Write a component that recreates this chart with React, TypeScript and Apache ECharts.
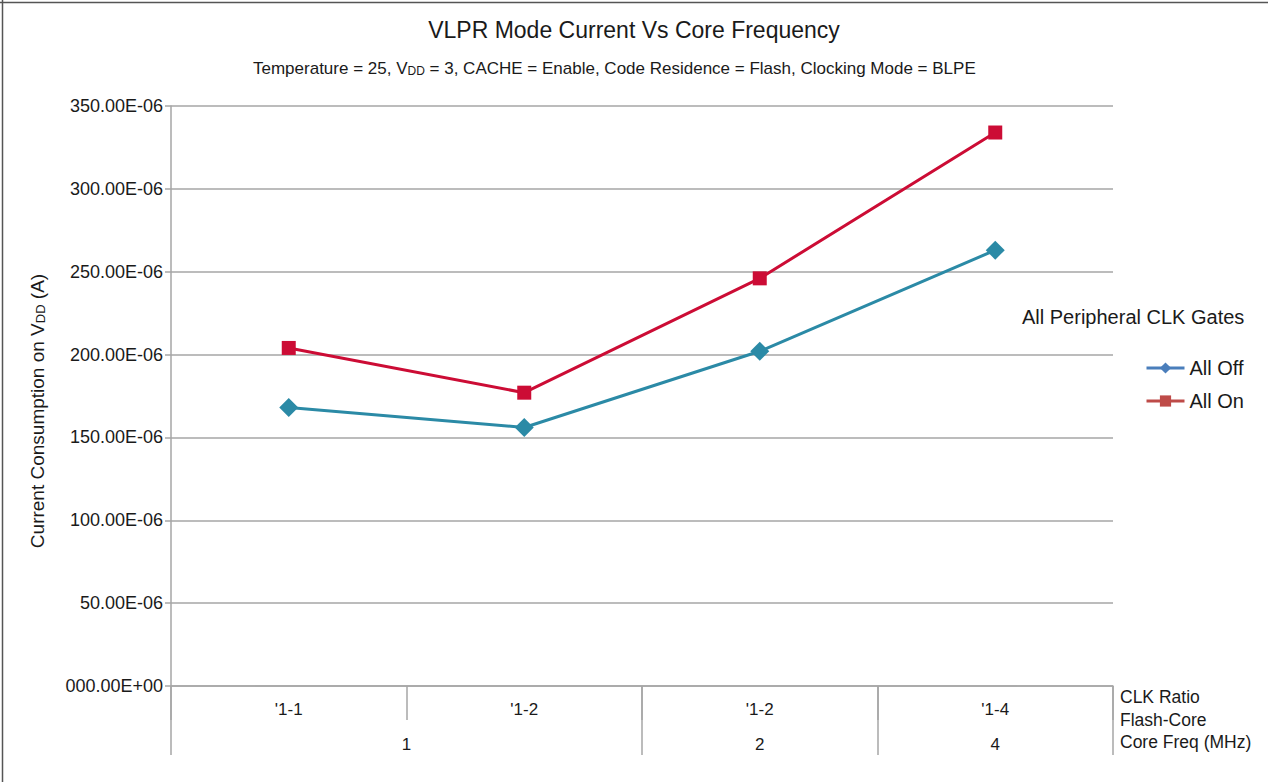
import React, { useEffect, useRef } from "react";
import * as echarts from "echarts";

const clkRatio = ["'1-1", "'1-2", "'1-2", "'1-4"];
const coreFreq = ["1", "2", "4"];
const coreFreqPos = [1, 2.5, 3.5];
const groupEdges = [0, 2, 3, 4];
const allOff = [168, 156, 202, 263];
const allOn = [204, 177, 246, 334];
const yTicks = [0, 50, 100, 150, 200, 250, 300, 350];

const FONT = "Liberation Sans, Arial, Helvetica, sans-serif";
const GRID = "#a6a6a6";
const TXT = "#1a1a1a";

export default function App() {
  const ref = useRef<HTMLDivElement>(null);
  useEffect(() => {
    if (!ref.current) return;
    const chart = echarts.init(ref.current, undefined, { renderer: "svg" });
    const fmtY = (v: number) =>
      v === 0 ? "000.00E+00" : v.toFixed(2) + "E-06";
    chart.setOption({
      animation: false,
      textStyle: { fontFamily: FONT },
      title: [
        {
          text: "VLPR Mode Current Vs Core Frequency",
          left: "center",
          top: 13,
          textStyle: { fontSize: 23, fontWeight: "normal", color: TXT, fontFamily: FONT },
        },
        {
          text: "{n|Temperature = 25, V}{s|DD}{n| = 3, CACHE = Enable, Code Residence = Flash, Clocking Mode = BLPE}",
          left: 248,
          top: 51,
          textStyle: {
            fontSize: 17,
            fontWeight: "normal",
            color: TXT,
            fontFamily: FONT,
            rich: {
              n: { fontSize: 17, color: TXT, fontFamily: FONT, verticalAlign: "bottom", lineHeight: 21 },
              s: { fontSize: 12, color: TXT, fontFamily: FONT, verticalAlign: "bottom", lineHeight: 16 },
            },
          },
        },
      ],
      grid: { left: 171, right: 155, top: 106, bottom: 96, containLabel: false },
      legend: {
        orient: "vertical",
        left: 1140,
        top: 353,
        itemGap: 13,
        itemWidth: 38,
        itemHeight: 14,
        textStyle: { fontSize: 20, color: TXT, fontFamily: FONT },
        data: [
          { name: "All Off", itemStyle: { color: "#4a7ebb" }, lineStyle: { color: "#4a7ebb", width: 3 } },
          { name: "All On", itemStyle: { color: "#be4b48" }, lineStyle: { color: "#be4b48", width: 3 } },
        ],
      },
      xAxis: [
        {
          type: "category",
          data: clkRatio.map((_, i) => String(i)),
          boundaryGap: true,
          axisLine: { show: true, lineStyle: { color: GRID, width: 1.5 } },
          axisTick: { show: true, length: 34, lineStyle: { color: GRID, width: 1.5 } },
          axisLabel: {
            margin: 15,
            fontSize: 17,
            color: TXT,
            fontFamily: FONT,
            formatter: (_v: string, i: number) => clkRatio[i],
          },
          splitLine: { show: false },
        },
        {
          type: "value",
          position: "bottom",
          min: 0,
          max: 4,
          axisLine: { show: false },
          axisTick: {
            show: true,
            length: 69,
            customValues: groupEdges,
            lineStyle: { color: GRID, width: 1.5 },
          },
          axisLabel: {
            margin: 50,
            fontSize: 17,
            color: TXT,
            fontFamily: FONT,
            customValues: coreFreqPos,
            formatter: (v: number) => {
              const i = coreFreqPos.indexOf(v);
              return i >= 0 ? coreFreq[i] : "";
            },
          },
          splitLine: { show: false },
        },
      ],
      yAxis: {
        type: "value",
        min: yTicks[0],
        max: yTicks[yTicks.length - 1],
        interval: 50,
        name: "{n|Current Consumption on V}{s|DD}{n| (A)}",
        nameLocation: "middle",
        nameRotate: 90,
        nameGap: 124,
        nameTextStyle: {
          fontSize: 19,
          color: TXT,
          fontFamily: FONT,
          padding: [0, 30, 0, 0],
          rich: {
            n: { fontSize: 19, color: TXT, fontFamily: FONT, verticalAlign: "bottom", lineHeight: 22 },
            s: { fontSize: 13, color: TXT, fontFamily: FONT, verticalAlign: "bottom", lineHeight: 17 },
          },
        },
        axisLine: { show: true, lineStyle: { color: GRID, width: 1.5 } },
        axisTick: { show: true, length: 6, lineStyle: { color: GRID, width: 1.5 } },
        axisLabel: {
          margin: 8,
          fontSize: 18,
          color: TXT,
          fontFamily: FONT,
          formatter: fmtY,
        },
        splitLine: { show: true, lineStyle: { color: GRID, width: 1.5 } },
      },
      series: [
        {
          name: "All Off",
          type: "line",
          data: allOff,
          symbol: "diamond",
          symbolSize: 19,
          itemStyle: { color: "#2b8aa6" },
          lineStyle: { color: "#2b8aa6", width: 3 },
        },
        {
          name: "All On",
          type: "line",
          data: allOn,
          symbol: "rect",
          symbolSize: 14,
          itemStyle: { color: "#cc0c35" },
          lineStyle: { color: "#cc0c35", width: 3 },
        },
      ],
      graphic: [
        {
          type: "line",
          shape: { x1: 2.5, y1: 0, x2: 2.5, y2: 782 },
          style: { stroke: "#555", lineWidth: 1.5 },
        },
        {
          type: "line",
          shape: { x1: 0, y1: 2.5, x2: 1268, y2: 2.5 },
          style: { stroke: "#555", lineWidth: 1.5 },
        },
        {
          type: "text",
          left: 1022,
          top: 307,
          style: { text: "All Peripheral CLK Gates", fontSize: 20, fill: TXT, fontFamily: FONT },
        },
        {
          type: "text",
          left: 1120,
          top: 686,
          style: {
            text: "CLK Ratio\nFlash-Core\nCore Freq (MHz)",
            fontSize: 17.5,
            lineHeight: 22.5,
            fill: TXT,
            fontFamily: FONT,
          },
        },
      ],
    });
    return () => chart.dispose();
  }, []);
  return <div ref={ref} style={{ width: 1268, height: 782, position: "absolute", left: 0, top: 0 }} />;
}
